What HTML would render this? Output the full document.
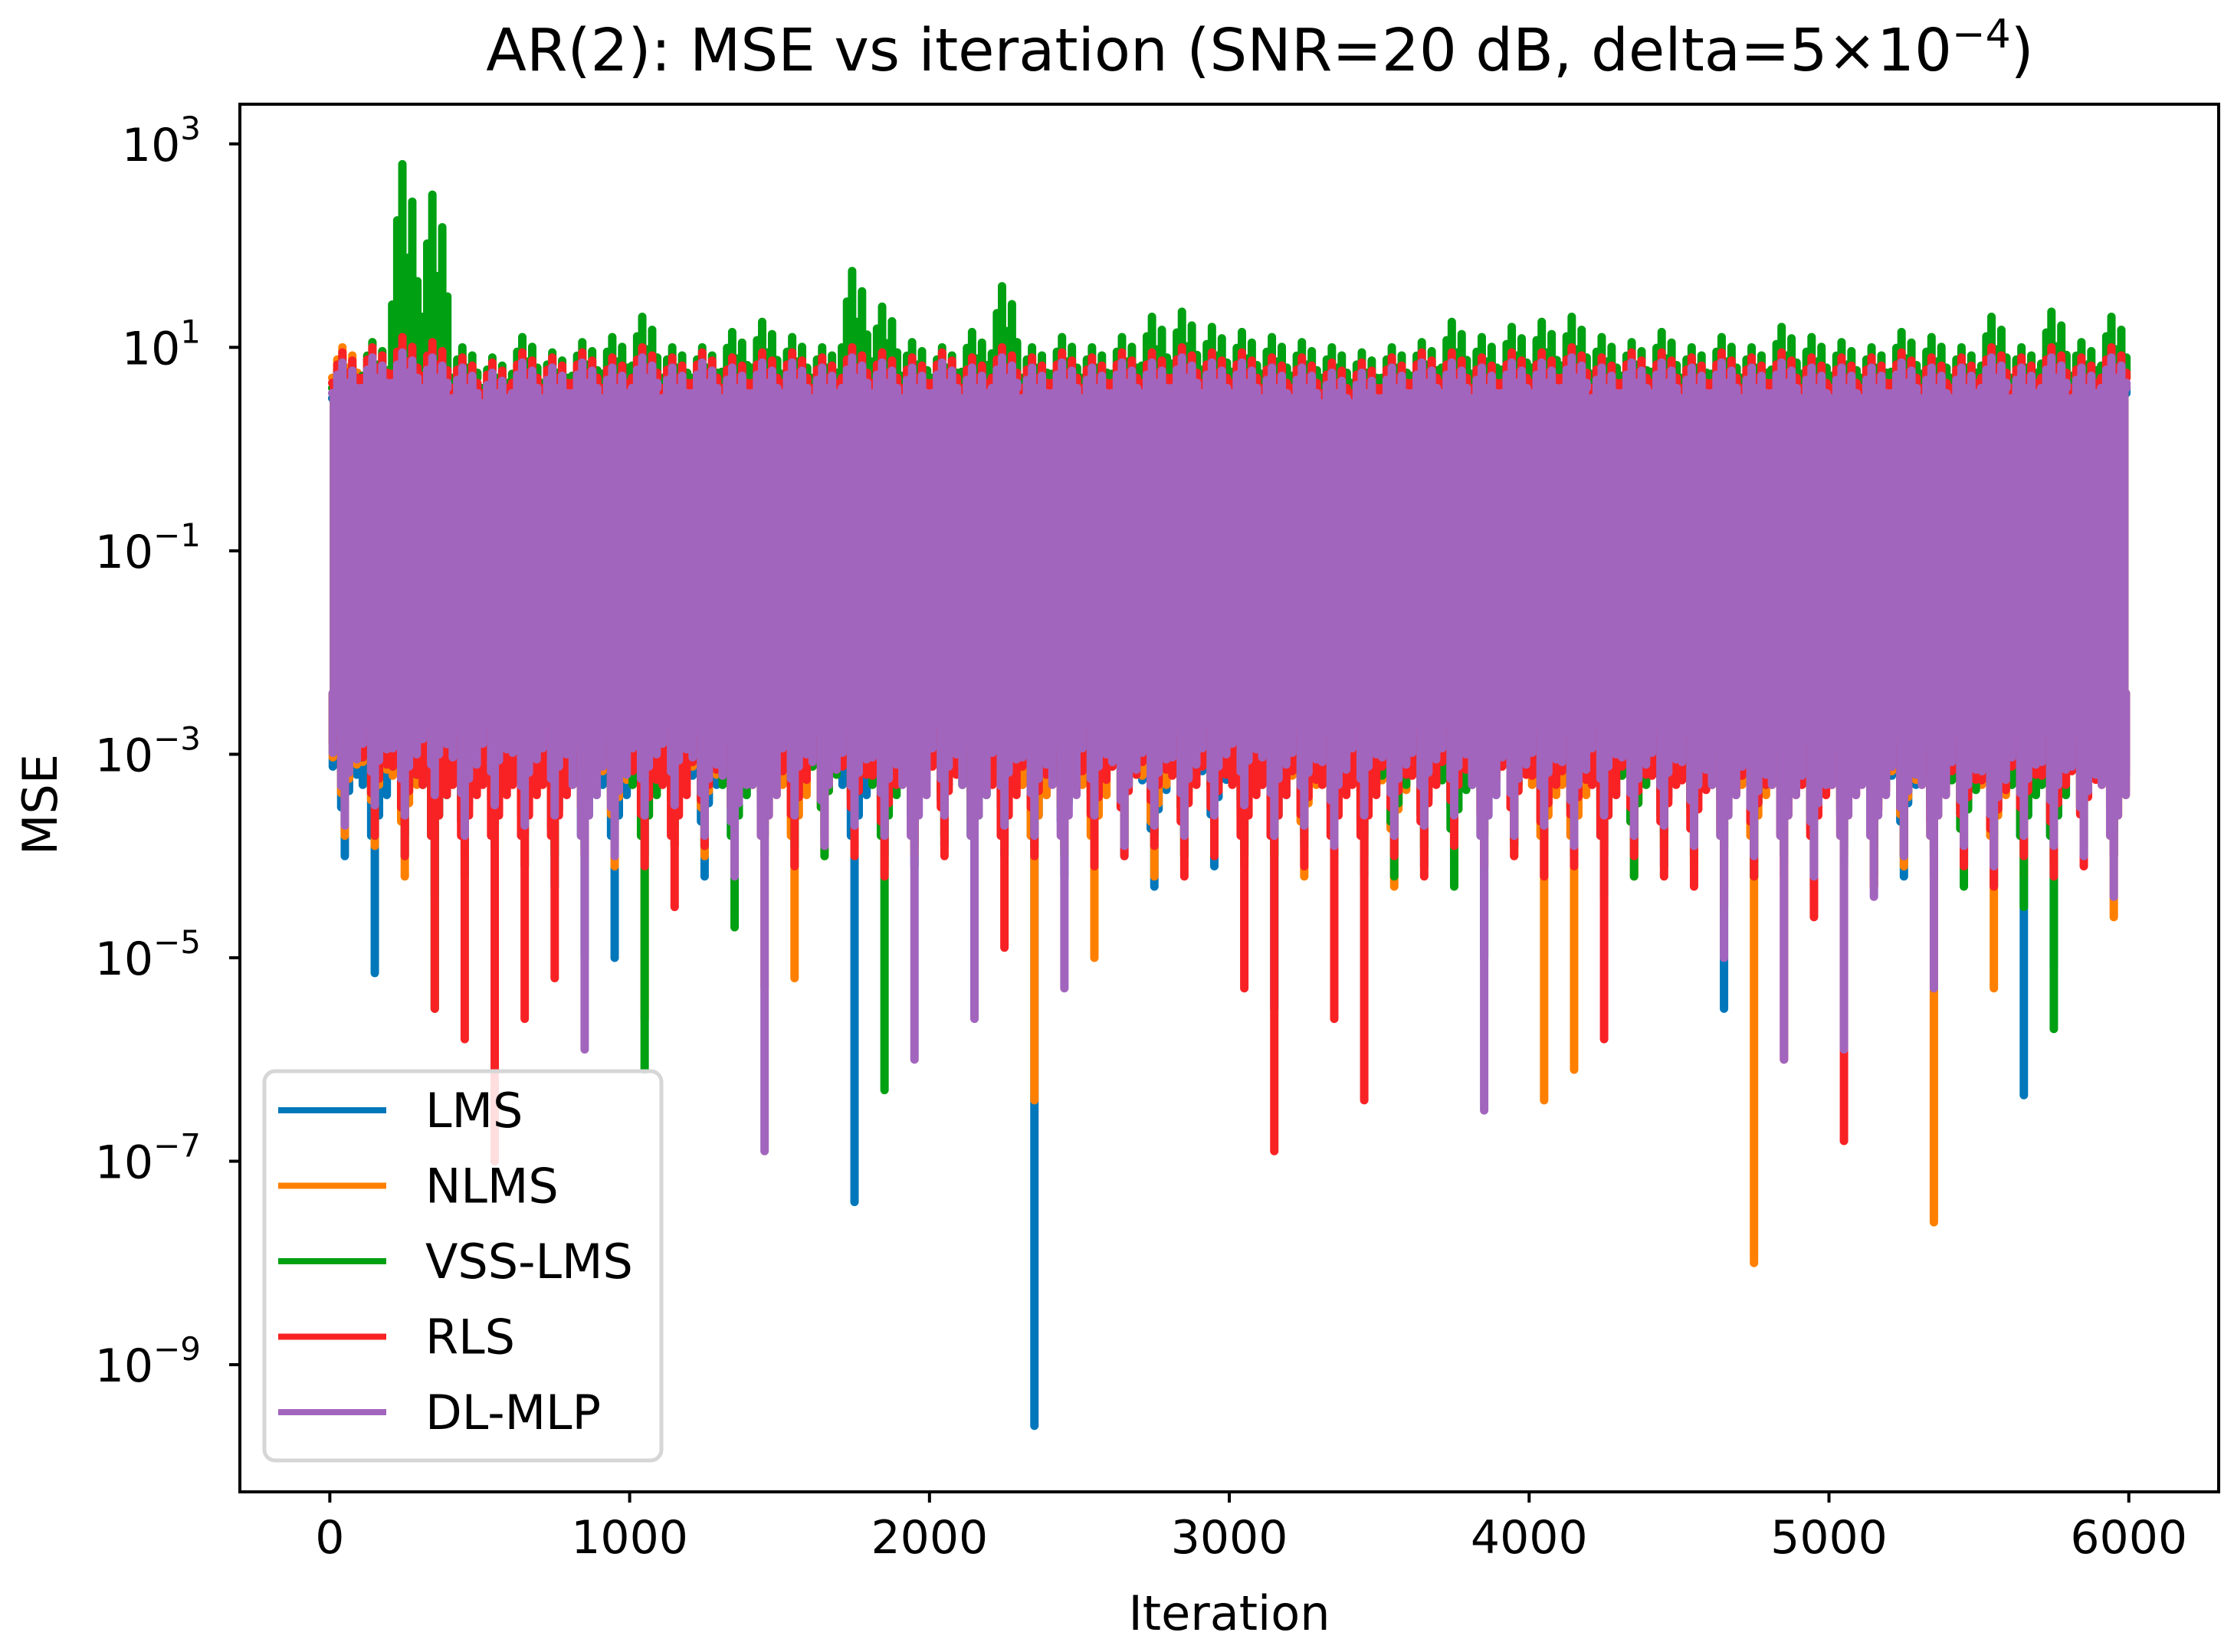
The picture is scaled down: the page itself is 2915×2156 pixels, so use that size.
<!DOCTYPE html>
<html><head><meta charset="utf-8">
<style>
html,body{margin:0;padding:0;background:#fff;}
svg{display:block;font-family:"DejaVu Sans","Liberation Sans",sans-serif;}
</style></head>
<body>
<svg id="chart" width="2915" height="2156" viewBox="0 0 2915 2156" xmlns="http://www.w3.org/2000/svg">
<rect x="0" y="0" width="2915" height="2156" fill="#fff"/>
<defs><clipPath id="plotclip"><rect x="313" y="136" width="2582" height="1811"/></clipPath></defs>
<text x="1644" y="92" font-size="77" text-anchor="middle">AR(2): MSE vs iteration (SNR=20 dB, delta=5×10<tspan dy="-30" font-size="52">−4</tspan><tspan dy="30">)</tspan></text>
<g id="series" clip-path="url(#plotclip)"></g>
<rect x="313" y="136" width="2582" height="1811" fill="none" stroke="#000" stroke-width="4"/>
<g id="xticks"></g>
<g id="yticks"></g>
<text x="1604" y="2127" font-size="62" text-anchor="middle">Iteration</text>
<text x="0" y="0" font-size="62" text-anchor="middle" transform="translate(74,1050) rotate(-90)">MSE</text>
<g id="legend"></g>
</svg>
<script>
const xTicks=[0,1000,2000,3000,4000,5000,6000];
const yTickExps=[3,1,-1,-3,-5,-7,-9];
const seriesNames=["LMS","NLMS","VSS-LMS","RLS","DL-MLP"];
const seriesColors=["#0077bb","#ff8000","#00a013","#f82225","#a265bd"];
const binSize=100;
// bin maxima (log10 MSE), 60 bins of 100 iterations
const topLMS=[0.8,0.85,0.9,0.85,0.8,0.75,0.8,0.85,0.8,0.85,0.9,0.8,0.85,0.8,0.85,0.8,0.85,0.9,0.85,0.8,0.85,0.8,0.9,0.8,0.85,0.8,0.85,0.85,0.9,0.85,0.85,0.8,0.8,0.75,0.75,0.8,0.85,0.85,0.8,0.85,0.85,0.9,0.8,0.85,0.85,0.8,0.85,0.8,0.85,0.8,0.8,0.8,0.85,0.8,0.8,0.85,0.8,0.85,0.8,0.85];
const topNLMS=[1.0,1.05,1.0,0.95,0.9,0.85,0.95,0.9,0.95,0.9,1.0,0.9,0.95,0.9,1.0,0.95,0.9,1.0,0.95,0.9,0.95,0.9,1.0,0.9,0.95,0.9,0.95,0.95,1.0,0.95,0.95,0.9,0.9,0.85,0.85,0.9,0.95,0.95,0.9,0.95,0.95,1.0,0.9,0.95,0.95,0.9,0.95,0.9,0.95,0.9,0.9,0.9,0.95,0.9,0.9,1.05,0.9,1.05,0.9,1.0];
const topVSS=[0.9,1.05,2.8,2.5,1.0,0.9,1.1,0.95,1.05,1.1,1.3,1.0,1.0,1.15,1.25,1.1,1.0,1.75,1.4,1.05,1.0,1.15,1.6,1.0,1.1,1.0,1.1,1.3,1.35,1.2,1.15,1.1,1.05,1.0,0.95,1.0,1.05,1.25,1.1,1.2,1.25,1.3,1.1,1.05,1.15,1.0,1.1,1.0,1.2,1.1,1.05,1.0,1.15,1.1,1.0,1.3,1.0,1.35,1.05,1.3];
const topRLS=[0.95,1.0,1.1,1.05,0.9,0.85,0.95,0.9,0.95,0.9,1.0,0.9,0.95,0.9,0.95,0.95,0.9,1.0,0.95,0.9,0.95,0.9,1.0,0.9,0.95,0.9,0.95,0.95,1.0,0.95,0.95,0.9,0.9,0.85,0.85,0.9,0.95,0.95,0.9,0.95,0.95,1.0,0.9,0.95,0.95,0.9,0.95,0.9,0.95,0.9,0.9,0.9,0.95,0.9,0.9,1.0,0.9,1.0,0.9,1.0];
const topMLP=[0.85,0.9,0.95,0.9,0.8,0.75,0.85,0.8,0.85,0.8,0.9,0.8,0.85,0.8,0.85,0.85,0.8,0.9,0.85,0.8,0.85,0.8,0.9,0.8,0.85,0.8,0.85,0.85,0.9,0.85,0.85,0.8,0.8,0.75,0.75,0.8,0.85,0.85,0.8,0.85,0.85,0.9,0.8,0.85,0.85,0.8,0.85,0.8,0.85,0.8,0.8,0.8,0.85,0.8,0.8,0.9,0.8,0.9,0.8,0.9];
// bin minima (log10 MSE)
const lowLMS=[-4.0,-5.15,-3.8,-4.4,-4.2,-3.9,-4.1,-4.3,-5.0,-5.0,-4.0,-3.9,-4.2,-4.5,-4.0,-4.1,-3.8,-7.4,-4.0,-4.1,-3.9,-5.4,-4.0,-9.6,-4.2,-3.9,-4.0,-4.3,-3.8,-4.1,-4.0,-5.5,-3.9,-4.0,-4.2,-3.8,-4.1,-4.0,-5.0,-3.9,-4.2,-4.0,-4.4,-3.9,-4.1,-4.0,-5.5,-4.2,-4.0,-4.3,-4.1,-3.9,-4.2,-4.0,-4.1,-4.3,-6.35,-5.1,-4.0,-3.8];
const lowNLMS=[-3.8,-3.9,-4.2,-3.8,-4.0,-3.7,-4.1,-3.9,-4.0,-4.1,-5.6,-3.9,-4.0,-3.8,-5.3,-5.2,-4.0,-3.9,-4.1,-4.0,-3.8,-4.2,-3.9,-6.4,-4.0,-5.0,-3.9,-4.2,-4.0,-3.8,-4.1,-4.0,-4.2,-3.9,-4.0,-4.3,-4.0,-3.9,-4.1,-4.0,-6.4,-6.1,-4.0,-4.2,-3.9,-4.1,-4.3,-8.0,-4.2,-4.5,-4.0,-4.3,-4.1,-7.6,-4.0,-5.3,-4.2,-4.1,-4.0,-4.6];
const lowVSS=[-3.5,-3.8,-4.0,-5.5,-3.9,-3.7,-3.8,-4.0,-3.9,-3.8,-6.1,-3.7,-3.9,-4.7,-3.8,-3.9,-4.0,-3.8,-6.3,-3.9,-3.8,-5.0,-3.7,-3.9,-4.0,-3.8,-3.9,-3.8,-4.0,-3.7,-3.9,-4.0,-3.8,-3.9,-3.8,-4.2,-3.9,-4.3,-3.8,-3.9,-3.8,-4.0,-3.9,-4.2,-3.8,-4.0,-3.9,-4.2,-4.0,-4.1,-3.9,-4.2,-4.0,-3.9,-4.3,-3.8,-4.5,-5.7,-3.9,-4.0];
const lowRLS=[-3.5,-3.8,-4.0,-5.5,-5.8,-7.0,-5.6,-5.2,-4.0,-3.9,-4.1,-4.5,-3.9,-4.0,-3.8,-4.1,-3.9,-4.0,-4.2,-3.9,-4.0,-3.8,-4.9,-4.0,-3.9,-4.1,-4.0,-3.9,-4.2,-4.0,-5.3,-6.9,-4.1,-5.6,-6.4,-4.0,-4.2,-3.9,-4.1,-4.0,-4.2,-4.1,-5.8,-4.0,-4.2,-4.3,-4.5,-4.2,-6.0,-4.6,-6.8,-4.3,-4.0,-4.2,-4.1,-4.3,-4.0,-4.2,-4.1,-4.0];
const lowMLP=[-3.7,-3.5,-3.6,-3.4,-3.8,-3.5,-3.7,-3.6,-5.9,-4.0,-3.6,-3.5,-3.8,-4.2,-6.9,-3.6,-3.9,-3.7,-3.8,-6.0,-3.6,-5.6,-3.7,-3.8,-5.3,-3.6,-3.9,-3.7,-3.8,-3.6,-3.5,-3.8,-3.7,-3.9,-3.6,-3.8,-3.7,-3.6,-6.5,-3.8,-3.7,-3.9,-3.6,-3.8,-3.7,-3.9,-5.0,-4.0,-6.0,-4.2,-5.9,-4.4,-4.0,-5.3,-3.9,-4.1,-3.8,-3.9,-4.0,-4.4];

const NS="http://www.w3.org/2000/svg";
const X0=313,X1=2895,XMIN=-300,XMAX=6299.75;
const Y0=136,Y1=1947,LMAX=3.39,LMIN=-10.25;
function xScale(v){return X0+(v-XMIN)/(XMAX-XMIN)*(X1-X0);}
function yScale(l){return Y0+(LMAX-l)/(LMAX-LMIN)*(Y1-Y0);}
function mk(tag,attrs,parent){const e=document.createElementNS(NS,tag);for(const k in attrs)e.setAttribute(k,attrs[k]);parent.appendChild(e);return e;}

const tops=[topLMS,topNLMS,topVSS,topRLS,topMLP];
const lows=[lowLMS,lowNLMS,lowVSS,lowRLS,lowMLP];
const base=-2.4;
// visual texture pattern (positions inside a bin and depth fractions), styling only
const topPos=[0.08,0.25,0.42,0.58,0.75,0.92];
const topFrac=[0.3,0.12,0.0,0.2,0.08,0.25];
const lowPos=[0.1,0.26,0.38,0.64,0.78,0.9];
const lowFrac=[0.45,0.25,0.7,0.6,0.3,0.5];
const sg=document.getElementById('series');
for(let s=0;s<5;s++){
  const g=mk('g',{},sg);
  
  
  const col=seriesColors[s];
  const top=tops[s],low=lows[s];
  const sw=11;
  let d='M'+xScale(0)+' '+yScale(base);
  for(let i=0;i<top.length;i++){
    const xa=xScale(i*binSize),xb=xScale(Math.min((i+1)*binSize,5999));
    const body=Math.min(top[i],1.0)-0.3;
    d+=' L'+xa+' '+yScale(body)+' L'+xb+' '+yScale(body);
  }
  d+=' L'+xScale(5999)+' '+yScale(base)+' Z';
  const band=mk('path',{d:d,fill:col},g);
  
  
  for(let i=0;i<top.length;i++){
    const body=Math.min(top[i],1.0)-0.3;
    const spread=1+Math.max(top[i]-1,0)*2;
    for(let k=0;k<topPos.length;k++){
      const xx=xScale(Math.min(i*binSize+topPos[k]*100,5999));
      const peak=top[i]-topFrac[k]*spread;
      const tl=mk('line',{x1:xx,x2:xx,y1:yScale(body),y2:yScale(peak),stroke:col,'stroke-width':sw,'stroke-linecap':'round'},g);
      
      
    }
    const xc=xScale(i*binSize+50);
    const sp=mk('line',{x1:xc,x2:xc,y1:yScale(base),y2:yScale(low[i]),stroke:col,'stroke-width':sw,'stroke-linecap':'round'},g);
    
    
    for(let k=0;k<lowPos.length;k++){
      const xx=xScale(i*binSize+lowPos[k]*100);
      const depth=Math.max(low[i]-base,-2.0);
      const lv=base+lowFrac[k]*depth;
      const sp2=mk('line',{x1:xx,x2:xx,y1:yScale(base),y2:yScale(lv),stroke:col,'stroke-width':sw,'stroke-linecap':'round'},g);
      
      
    }
  }
}

const xg=document.getElementById('xticks');
xTicks.forEach(v=>{
  const x=xScale(v);
  const t=mk('line',{x1:x,x2:x,y1:Y1,y2:Y1+14,stroke:'#000','stroke-width':4},xg);
  
  
  const lb=mk('text',{x:x,y:Y1+80,'font-size':60,'text-anchor':'middle'},xg);
  
  
  lb.textContent=String(v);
});
const yg=document.getElementById('yticks');
yTickExps.forEach(e=>{
  const y=yScale(e);
  const t=mk('line',{x1:X0-14,x2:X0,y1:y,y2:y,stroke:'#000','stroke-width':4},yg);
  
  
  const lb=mk('text',{x:262,y:y+22,'font-size':60,'text-anchor':'end'},yg);
  
  
  const t1=mk('tspan',{},lb);t1.textContent='10';
  const t2=mk('tspan',{dy:-28,'font-size':42},lb);t2.textContent=(e<0?'\u2212':'')+Math.abs(e);
});

const lg=document.getElementById('legend');
const box=mk('rect',{x:345,y:1398,width:518,height:508,rx:14,fill:'#fff','fill-opacity':0.85,stroke:'#d6d6d6','stroke-width':5},lg);


seriesNames.forEach((n,i)=>{
  const y=1449+i*98.5;
  const ln=mk('line',{x1:363,x2:504,y1:y,y2:y,stroke:seriesColors[i],'stroke-width':8},lg);
  
  
  const tx=mk('text',{x:555,y:y+22,'font-size':62},lg);
  
  
  tx.textContent=n;
});
</script>
</body></html>
